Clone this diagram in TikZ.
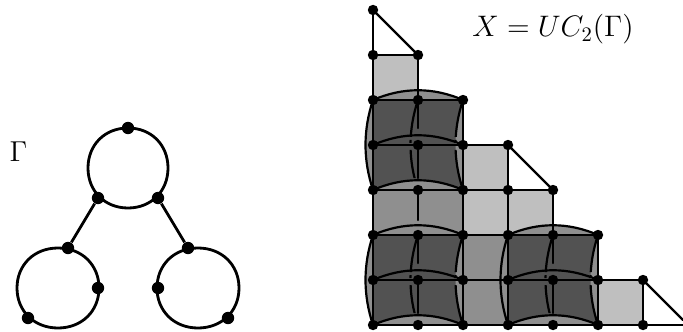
\documentclass[tikz,border=0pt]{standalone}
\definecolor{lightg}{gray}{0.75}
\definecolor{midg}{gray}{0.56}
\definecolor{darkg}{gray}{0.32}
\tikzset{
  edge/.style={line width=1.2pt,line cap=round},
  arcline/.style={line width=1.1pt,line cap=round},
  gedge/.style={line width=1.4pt},
  dot/.style={circle,fill=black,inner sep=0pt,minimum size=5.2pt},
  gdot/.style={circle,fill=black,inner sep=0pt,minimum size=6.2pt}
}
\newcommand{\blockfill}[2]{%
  \begin{scope}[shift={(#1,#2)}]
  \fill[midg] (0,0) .. controls (30,-13) and (60,-13) .. (90,0) -- (90,90) -- (0,90)
     .. controls (-10,60) and (-10,30) .. (0,0) -- cycle;
  \fill[darkg] (0,0) -- (90,0) .. controls (80,30) and (80,60) .. (90,90)
     .. controls (60,77) and (30,77) .. (0,90) -- cycle;
  \end{scope}}
\newcommand{\blocklines}[2]{%
  \begin{scope}[shift={(#1,#2)}]
  \foreach \yy in {0,45,90}
    \draw[arcline] (0,\yy) .. controls (30,\yy-13) and (60,\yy-13) .. (90,\yy);
  \draw[arcline] (0,0) .. controls (-10,30) and (-10,60) .. (0,90);
  \begin{scope}
    \clip (-20,-1) rectangle (100,37) (-20,40) rectangle (100,43) (-20,50) rectangle (100,78);
    \draw[arcline] (45,0) .. controls (35,30) and (35,60) .. (45,90);
  \end{scope}
  \begin{scope}
    \clip (-20,-1) rectangle (100,37) (-20,40) rectangle (100,43) (-20,50) rectangle (100,91);
    \draw[arcline] (90,0) .. controls (80,30) and (80,60) .. (90,90);
  \end{scope}
  \end{scope}}
% slightly squarish loop: centre #1,#2, radii #3,#4
\newcommand{\loopline}[4]{%
  \begin{scope}[shift={(#1,#2)}]
  \draw[gedge] (#3,0) .. controls (#3,-0.58*#4) and (0.58*#3,-#4) .. (0,-#4)
    .. controls (-0.58*#3,-#4) and (-#3,-0.58*#4) .. (-#3,0)
    .. controls (-#3,0.58*#4) and (-0.58*#3,#4) .. (0,#4)
    .. controls (0.58*#3,#4) and (#3,0.58*#4) .. (#3,0) -- cycle;
  \end{scope}}
\begin{document}
\begin{tikzpicture}[x=0.5pt,y=-0.5pt]
\useasboundingbox (0,0) rectangle (683,331);
% left graph
\node at (18.5,152) {\Large $\Gamma$};
\loopline{128}{168}{40}{40}
\loopline{58}{288}{41}{40}
\loopline{198}{288}{41}{40}
\node[gdot] (a) at (128,128) {};
\node[gdot] (b) at (98,198) {};
\node[gdot] (c) at (158,198) {};
\node[gdot] (d) at (68,248) {};
\node[gdot] (e) at (188,248) {};
\node[gdot] (f) at (98,288) {};
\node[gdot] (g) at (158,288) {};
\node[gdot] (h) at (28,318) {};
\node[gdot] (i) at (228,318) {};
\draw[gedge] (b) -- (d);
\draw[gedge] (c) -- (e);
% complex fills
\fill[lightg] (373,55) rectangle (418,100);
\fill[lightg] (463,145) rectangle (508,190);
\fill[lightg] (463,190) rectangle (553,235);
\fill[lightg] (598,280) rectangle (643,325);
\fill[midg] (373,190) rectangle (463,235);
\fill[midg] (463,235) rectangle (508,325);
\blockfill{373}{100}
\blockfill{373}{235}
\blockfill{508}{235}
% grid lines
\draw[edge] (373,10) -- (373,325);
\draw[edge] (418,55) -- (418,128) (418,150) -- (418,178) (418,190) -- (418,220)
  (418,235) -- (418,263) (418,285) -- (418,313);
\draw[edge] (463,100) -- (463,325);
\draw[edge] (508,145) -- (508,325);
\draw[edge] (553,190) -- (553,263) (553,285) -- (553,313);
\draw[edge] (598,235) -- (598,325);
\draw[edge] (643,280) -- (643,325);
\draw[edge] (373,55) -- (418,55);
\draw[edge] (373,100) -- (463,100);
\draw[edge] (373,145) -- (508,145);
\draw[edge] (373,190) -- (553,190);
\draw[edge] (373,235) -- (598,235);
\draw[edge] (373,280) -- (643,280);
\draw[edge] (373,325) -- (683,325);
\draw[edge] (373,10) -- (418,55);
\draw[edge] (508,145) -- (553,190);
\draw[edge] (643,280) -- (683,320);
\blocklines{373}{100}
\blocklines{373}{235}
\blocklines{508}{235}
% dots
\foreach \p in {(373,10),(373,55),(418,55),
  (373,100),(418,100),(463,100),
  (373,145),(418,145),(463,145),(508,145),
  (373,190),(418,190),(463,190),(508,190),(553,190),
  (373,235),(418,235),(463,235),(508,235),(553,235),(598,235),
  (373,280),(418,280),(463,280),(508,280),(553,280),(598,280),(643,280),
  (373,325),(418,325),(463,325),(508,325),(553,325),(598,325),(643,325)}
  \node[dot] at \p {};
\node[anchor=base,scale=1.03] at (553,37) {\Large $X=UC_2(\Gamma)$};
\end{tikzpicture}
\end{document}
